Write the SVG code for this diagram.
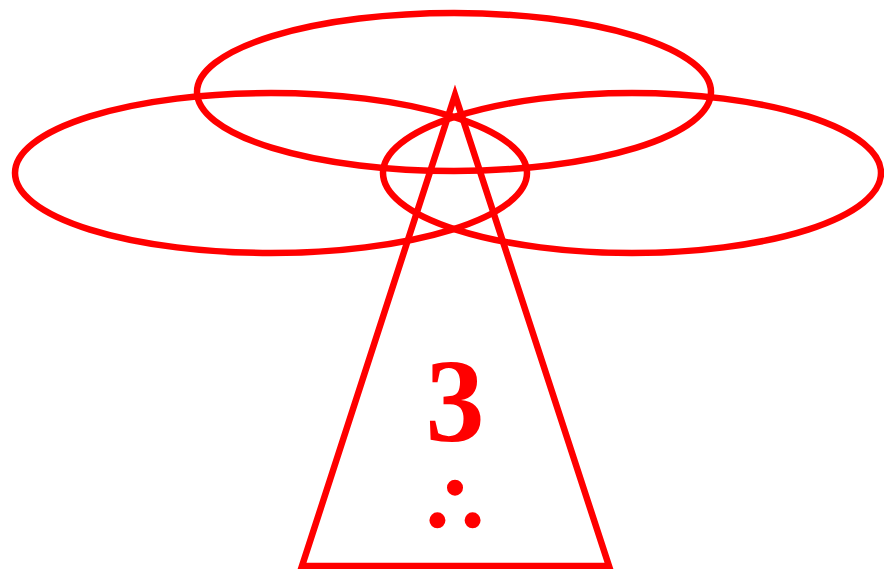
<svg xmlns="http://www.w3.org/2000/svg" width="884" height="569" viewBox="0 0 884 569">
<style>
.s{fill:none;stroke:#ff0000;stroke-width:6.5;stroke-miterlimit:20}
.t{fill:#ff0000;text-anchor:middle}
</style>
<rect width="884" height="569" fill="#ffffff"/>
<g id="connectors"></g>
<g id="ellipse-top"><ellipse class="s" cx="454" cy="92" rx="257" ry="79"/></g>
<g id="ellipse-left"><ellipse class="s" cx="271" cy="173" rx="256" ry="80"/></g>
<g id="ellipse-right"><ellipse class="s" cx="632" cy="173" rx="249" ry="80"/></g>
<g id="triangle">
<polygon class="s" points="455,95 302,566 609,566"/>
<text class="t" x="455" y="441" font-family="Liberation Serif, serif" font-weight="bold" font-size="118">3</text>
<text class="t" x="455" y="531" font-family="Noto Sans CJK SC, sans-serif" font-weight="bold" font-size="72" stroke="#ff0000" stroke-width="3.5">∴</text>
</g>
</svg>
